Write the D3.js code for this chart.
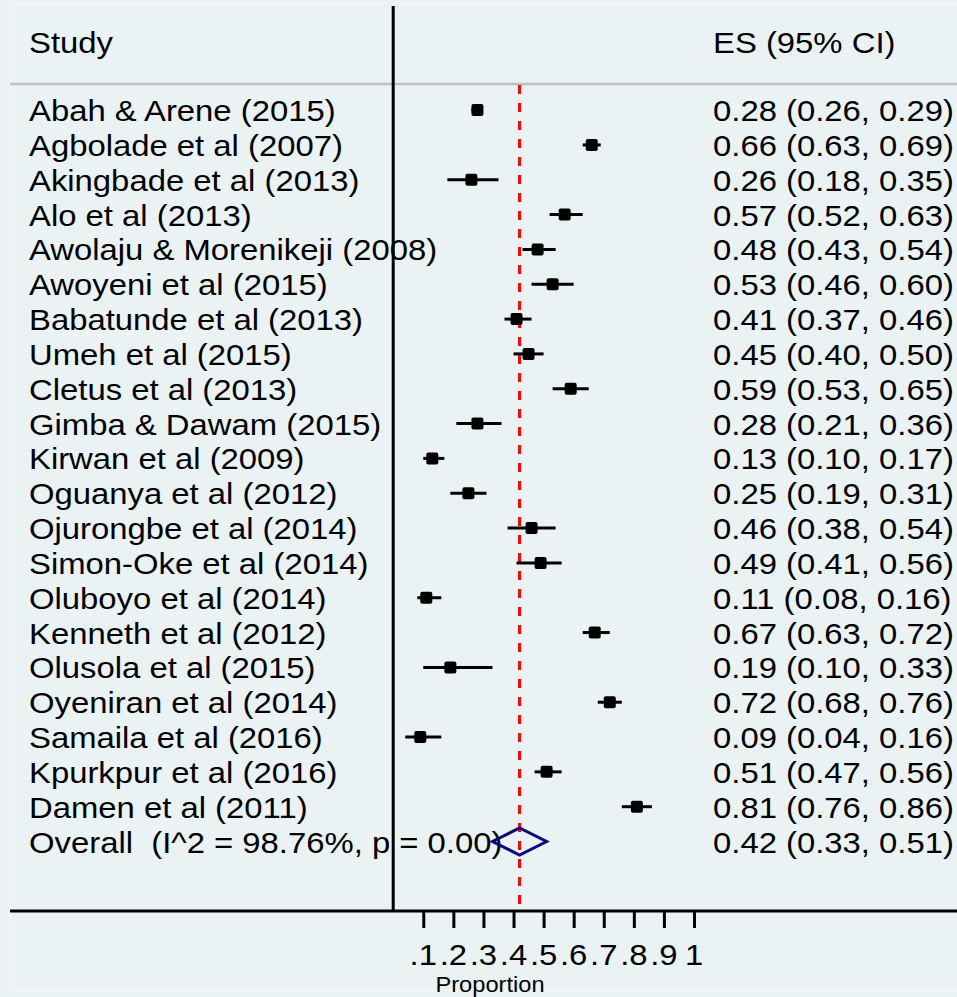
<!DOCTYPE html>
<html>
<head>
<meta charset="utf-8">
<script src="https://cdn.jsdelivr.net/npm/d3@7/dist/d3.min.js"></script>
<style>
  html, body { margin: 0; padding: 0; background: #EAF2F3; }
  svg { display: block; }
  text { font-family: "Liberation Sans", Arial, Helvetica, sans-serif; fill: #000; white-space: pre; }
</style>
</head>
<body>
<svg id="chart" width="957" height="997"></svg>
<script>
const studies = [
  "Abah & Arene (2015)", "Agbolade et al (2007)", "Akingbade et al (2013)", "Alo et al (2013)",
  "Awolaju & Morenikeji (2008)", "Awoyeni et al (2015)", "Babatunde et al (2013)", "Umeh et al (2015)",
  "Cletus et al (2013)", "Gimba & Dawam (2015)", "Kirwan et al (2009)", "Oguanya et al (2012)",
  "Ojurongbe et al (2014)", "Simon-Oke et al (2014)", "Oluboyo et al (2014)", "Kenneth et al (2012)",
  "Olusola et al (2015)", "Oyeniran et al (2014)", "Samaila et al (2016)", "Kpurkpur et al (2016)",
  "Damen et al (2011)"
];
const es = [0.28,0.66,0.26,0.57,0.48,0.53,0.41,0.45,0.59,0.28,0.13,0.25,0.46,0.49,0.11,0.67,0.19,0.72,0.09,0.51,0.81];
const lo = [0.26,0.63,0.18,0.52,0.43,0.46,0.37,0.40,0.53,0.21,0.10,0.19,0.38,0.41,0.08,0.63,0.10,0.68,0.04,0.47,0.76];
const hi = [0.29,0.69,0.35,0.63,0.54,0.60,0.46,0.50,0.65,0.36,0.17,0.31,0.54,0.56,0.16,0.72,0.33,0.76,0.16,0.56,0.86];
const overallLabel = "Overall  (I^2 = 98.76%, p = 0.00)";
const overall = { es: 0.42, lo: 0.33, hi: 0.51 };
const tickValues = [0.1,0.2,0.3,0.4,0.5,0.6,0.7,0.8,0.9,1.0];
const tickLabels = [".1",".2",".3",".4",".5",".6",".7",".8",".9","1"];
const headerLeft = "Study";
const headerRight = "ES (95% CI)";
const axisTitle = "Proportion";

const svg = d3.select("#chart");
const W = 957, H = 997;
const SX = 1.095;     // horizontal text stretch
const FS = 30;

svg.append("rect").attr("x", 0).attr("y", 0).attr("width", W).attr("height", H).attr("fill", "#EAF2F3");
svg.append("rect").attr("x", 10.5).attr("y", 3.5).attr("width", W - 10).attr("height", H - 10)
  .attr("fill", "#EAF2F3").attr("stroke", "#F4F8F9").attr("stroke-width", 1);

const x = d3.scaleLinear().domain([0, 1]).range([393.2, 694]);
const y = d3.scaleLinear().domain([0, 1]).range([110.1, 110.1 + 34.83]);

const fmt = d3.format(".2f");
function esText(e, l, h) { return `${fmt(e)} (${fmt(l)}, ${fmt(h)})`; }

function txt(px, py, str, size, anchor) {
  return svg.append("text")
    .attr("transform", `translate(${px},${py}) scale(${SX},1)`)
    .attr("font-size", size)
    .attr("text-anchor", anchor || "start")
    .text(str);
}

// headers
txt(29, 53, headerLeft, FS);
txt(713, 53, headerRight, FS);

// row labels and ES text
const all = studies.concat([overallLabel]);
all.forEach((s, i) => {
  txt(29, y(i) + 11, s, FS);
});
studies.forEach((s, i) => {
  txt(713, y(i) + 11, esText(es[i], lo[i], hi[i]), FS);
});
txt(713, y(21) + 11, esText(overall.es, overall.lo, overall.hi), FS);

// header separator line
svg.append("line").attr("x1", 10).attr("x2", W).attr("y1", 84).attr("y2", 84)
  .attr("stroke", "#C0C0C0").attr("stroke-width", 2.5);

// red dashed line at overall
svg.append("line").attr("x1", x(overall.es)).attr("x2", x(overall.es))
  .attr("y1", 85).attr("y2", 910)
  .attr("stroke", "#FF0000").attr("stroke-width", 3).attr("stroke-dasharray", "9,9");

// vertical black line at 0
svg.append("line").attr("x1", x(0)).attr("x2", x(0)).attr("y1", 6).attr("y2", 912)
  .attr("stroke", "#000").attr("stroke-width", 3);

// CI lines
svg.append("g").selectAll("line").data(studies).join("line")
  .attr("x1", (d, i) => x(lo[i])).attr("x2", (d, i) => x(hi[i]))
  .attr("y1", (d, i) => y(i)).attr("y2", (d, i) => y(i))
  .attr("stroke", "#000").attr("stroke-width", 3);

// markers
const ms = 12;
svg.append("g").selectAll("rect").data(studies).join("rect")
  .attr("x", (d, i) => x(es[i]) - ms / 2).attr("y", (d, i) => y(i) - ms / 2)
  .attr("width", ms).attr("height", ms).attr("rx", 2).attr("fill", "#000");

// overall diamond
const dy = y(21), dh = 13.5;
svg.append("path")
  .attr("d", `M${x(overall.lo)},${dy} L${x(overall.es)},${dy - dh} L${x(overall.hi)},${dy} L${x(overall.es)},${dy + dh} Z`)
  .attr("fill", "none").attr("stroke", "#0A0A78").attr("stroke-width", 3).attr("stroke-linejoin", "miter");

// bottom axis
const axisY = 911;
svg.append("line").attr("x1", 10).attr("x2", W).attr("y1", axisY).attr("y2", axisY)
  .attr("stroke", "#000").attr("stroke-width", 3);
const axis = d3.axisBottom(x).tickValues(tickValues).tickSize(17).tickFormat((d, i) => tickLabels[i]);
const ag = svg.append("g").attr("transform", `translate(0,${axisY})`).call(axis);
ag.select(".domain").remove();
ag.selectAll(".tick line").attr("stroke", "#000").attr("stroke-width", 3);
ag.selectAll(".tick text").remove();
tickValues.forEach((v, i) => txt(x(v), 965, tickLabels[i], FS, "middle"));

// axis title
svg.append("text")
  .attr("transform", `translate(490,992) scale(1.1,1)`)
  .attr("font-size", 21.5).attr("text-anchor", "middle").text(axisTitle);
</script>
</body>
</html>
